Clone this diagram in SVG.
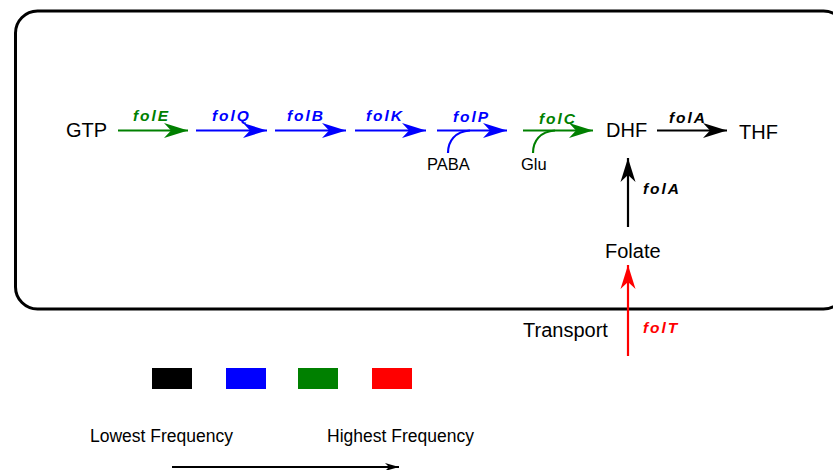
<svg xmlns="http://www.w3.org/2000/svg" width="833" height="470" viewBox="0 0 833 470">
  <style>
    .cmp { font-family: "Liberation Sans", Arial, sans-serif; font-size: 20px; fill: #000; }
    .sub { font-family: "Liberation Sans", Arial, sans-serif; font-size: 16.5px; fill: #000; }
    .leg { font-family: "Liberation Sans", Arial, sans-serif; font-size: 17.5px; fill: #000; }
    .gene { font-family: "Liberation Sans", Arial, sans-serif; font-size: 15.5px; font-weight: bold; font-style: italic; letter-spacing: 1.9px; }
    .ln { fill: none; stroke-width: 2.2; }
    .k { stroke: #000; } .b { stroke: #0000ff; } .g { stroke: #008000; } .r { stroke: #ff0000; }
    .tk { fill: #000; } .tb { fill: #0000ff; } .tg { fill: #008000; } .tr { fill: #ff0000; }
  </style>
  <defs>
    <marker id="headK" markerUnits="userSpaceOnUse" markerWidth="26" markerHeight="18" viewBox="-25 -9 26 18" refX="0" refY="0" orient="auto">
      <path d="M0,0 L-24,-7.5 L-17,0 L-24,7.5 Z" fill="#000"/>
    </marker>
    <marker id="headB" markerUnits="userSpaceOnUse" markerWidth="26" markerHeight="18" viewBox="-25 -9 26 18" refX="0" refY="0" orient="auto">
      <path d="M0,0 L-24,-7.5 L-17,0 L-24,7.5 Z" fill="#0000ff"/>
    </marker>
    <marker id="headG" markerUnits="userSpaceOnUse" markerWidth="26" markerHeight="18" viewBox="-25 -9 26 18" refX="0" refY="0" orient="auto">
      <path d="M0,0 L-24,-7.5 L-17,0 L-24,7.5 Z" fill="#008000"/>
    </marker>
    <marker id="headR" markerUnits="userSpaceOnUse" markerWidth="26" markerHeight="18" viewBox="-25 -9 26 18" refX="0" refY="0" orient="auto">
      <path d="M0,0 L-24,-7.5 L-17,0 L-24,7.5 Z" fill="#ff0000"/>
    </marker>
    <marker id="headSmall" markerUnits="userSpaceOnUse" markerWidth="16" markerHeight="10" viewBox="-15 -5 16 10" refX="0" refY="0" orient="auto">
      <path d="M0,0 L-14,-4 L-10,0 L-14,4 Z" fill="#000"/>
    </marker>
  </defs>

  <!-- cell boundary -->
  <rect id="cell" x="15.5" y="11" width="830" height="298" rx="22" ry="22" fill="none" stroke="#000" stroke-width="3"/>

  <!-- metabolites -->
  <g id="GTP"><text class="cmp" x="66" y="137">GTP</text></g>
  <g id="DHF"><text class="cmp" x="606" y="137">DHF</text></g>
  <g id="THF"><text class="cmp" x="739" y="139">THF</text></g>
  <g id="Folate"><text class="cmp" x="605" y="258">Folate</text></g>
  <g id="Transport"><text class="cmp" x="523" y="337">Transport</text></g>
  <g id="PABA"><text class="sub" x="427" y="170">PABA</text></g>
  <g id="Glu"><text class="sub" x="521" y="170">Glu</text></g>

  <!-- reaction arrows -->
  <g id="connectors">
    <line class="ln g" x1="118" y1="130.5" x2="188" y2="130.5" marker-end="url(#headG)"/>
    <line class="ln b" x1="196" y1="130.5" x2="267" y2="130.5" marker-end="url(#headB)"/>
    <line class="ln b" x1="275" y1="130.5" x2="346" y2="130.5" marker-end="url(#headB)"/>
    <line class="ln b" x1="355" y1="130.5" x2="426" y2="130.5" marker-end="url(#headB)"/>
    <line class="ln b" x1="437" y1="130.5" x2="507" y2="130.5" marker-end="url(#headB)"/>
    <path class="ln b" d="M448,153 C448,141 455,131.5 470,130.5"/>
    <line class="ln g" x1="523" y1="130.5" x2="593" y2="130.5" marker-end="url(#headG)"/>
    <path class="ln g" d="M533,153 C533,141 540,131.5 555,130.5"/>
    <line class="ln k" x1="657" y1="130.5" x2="727" y2="130.5" marker-end="url(#headK)"/>
    <line class="ln k" x1="628" y1="227" x2="628" y2="158" marker-end="url(#headK)"/>
    <line class="ln r" x1="628" y1="356" x2="628" y2="265" marker-end="url(#headR)"/>
    <line class="ln k" x1="172" y1="467" x2="399" y2="467" marker-end="url(#headSmall)"/>
  </g>

  <!-- gene labels -->
  <g id="genes">
    <text class="gene tg" x="133" y="121">folE</text>
    <text class="gene tb" x="212" y="121">folQ</text>
    <text class="gene tb" x="287" y="121">folB</text>
    <text class="gene tb" x="366" y="121">folK</text>
    <text class="gene tb" x="453" y="122">folP</text>
    <text class="gene tg" x="539" y="124">folC</text>
    <text class="gene tk" x="669" y="123">folA</text>
    <text class="gene tk" x="643" y="194">folA</text>
    <text class="gene tr" x="643" y="333">folT</text>
  </g>

  <!-- frequency legend -->
  <g id="legend">
    <rect x="152" y="368" width="40" height="21" fill="#000"/>
    <rect x="226" y="368" width="40" height="21" fill="#0000ff"/>
    <rect x="298" y="368" width="40" height="21" fill="#008000"/>
    <rect x="372" y="368" width="40" height="21" fill="#ff0000"/>
    <text class="leg" x="90" y="442">Lowest Frequency</text>
    <text class="leg" x="327" y="442">Highest Frequency</text>
  </g>
</svg>
